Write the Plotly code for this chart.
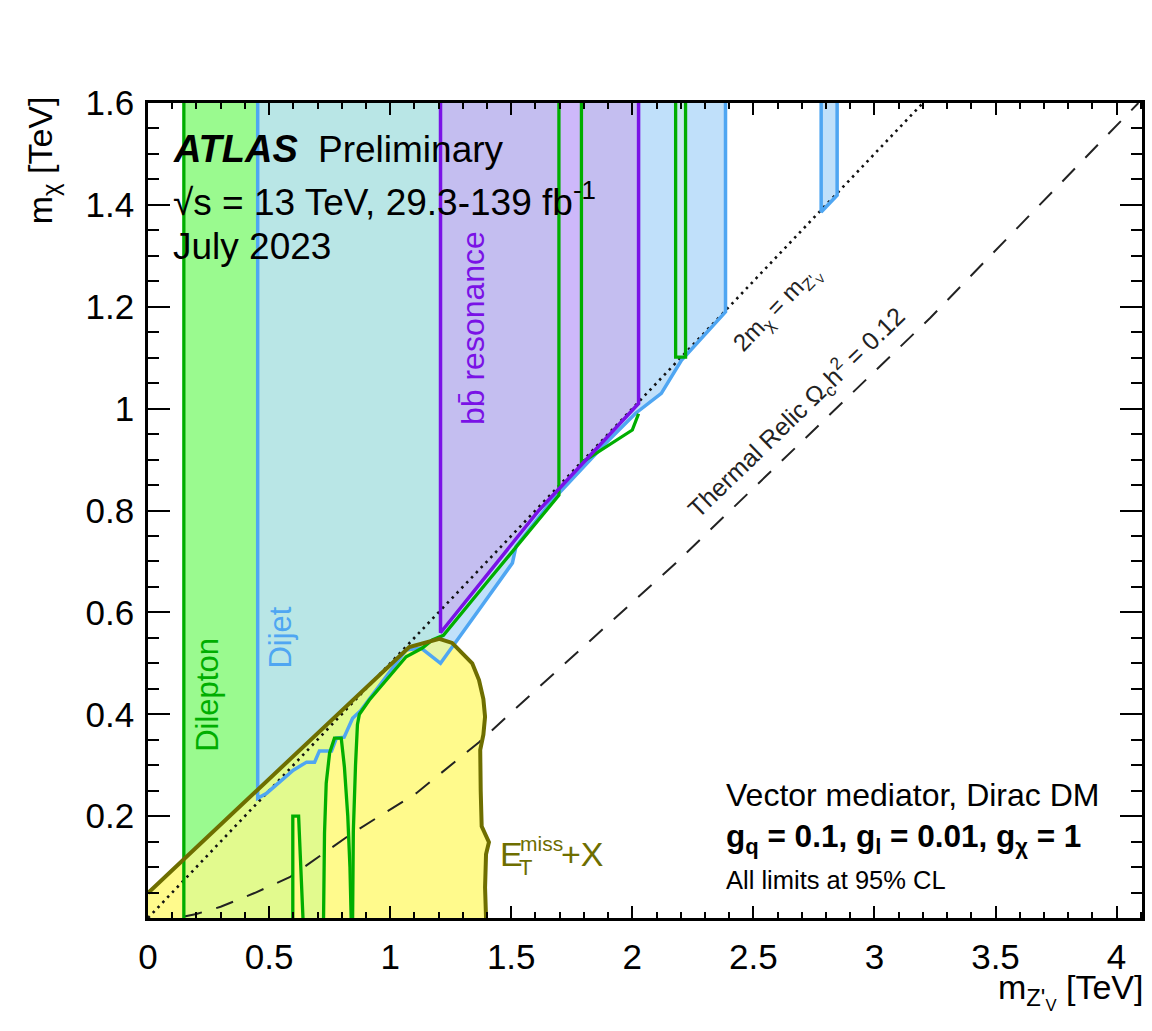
import numpy as np
import plotly.graph_objects as go

# ---------------- data (TeV) ----------------
x_range = [0.0, 4.105]
y_range = [0.0, 1.6]

x_tick_vals = [0, 0.5, 1, 1.5, 2, 2.5, 3, 3.5, 4]
x_tick_text = ["0", "0.5", "1", "1.5", "2", "2.5", "3", "3.5", "4"]
y_tick_vals = [0.2, 0.4, 0.6, 0.8, 1.0, 1.2, 1.4, 1.6]
y_tick_text = ["0.2", "0.4", "0.6", "0.8", "1", "1.2", "1.4", "1.6"]

# 2 m_chi = m_Z' line
diag_x = [0.0, 3.2]
diag_y = [0.0, 1.6]

# thermal relic line
relic_x = [0.15, 0.2, 0.3, 0.44, 0.585, 0.845, 1.108, 1.367, 1.614, 2.18, 3.23, 4.09]
relic_y = [0.003, 0.008, 0.022, 0.049, 0.080, 0.167, 0.245, 0.345, 0.453, 0.697, 1.178, 1.6]

# E_T^miss + X contour
etmiss_x = [0.0, 1.079, 1.203, 1.256, 1.339, 1.367, 1.385, 1.392, 1.385, 1.372, 1.374, 1.378, 1.408, 1.396, 1.392, 1.396]
etmiss_y = [0.049, 0.532, 0.548, 0.540, 0.500, 0.467, 0.430, 0.395, 0.360, 0.330, 0.250, 0.180, 0.149, 0.125, 0.060, 0.0]

# Dijet contours
dijet_x = [0.453, 0.453, 0.49, 0.6, 0.655, 0.688, 0.708, 0.758, 0.778, 0.81, 0.845, 0.88, 1.066, 1.128, 1.208,
           1.27, 1.367, 1.505, 1.52, 1.67, 1.89, 2.014, 2.12, 2.203, 2.385, 2.385]
dijet_y = [1.6, 0.235, 0.245, 0.29, 0.306, 0.306, 0.328, 0.328, 0.353, 0.355, 0.392, 0.408, 0.526, 0.53, 0.50,
           0.54, 0.605, 0.697, 0.73, 0.82, 0.932, 0.991, 1.03, 1.095, 1.19, 1.6]
dijet2_x = [2.78, 2.78, 2.846, 2.846]
dijet2_y = [1.6, 1.386, 1.419, 1.6]

# b-bbar resonance contour
bb_x = [1.208, 1.208, 1.614, 2.0, 2.026, 2.026]
bb_y = [1.6, 0.56, 0.80, 0.997, 1.01, 1.6]

# Dilepton contours
dl1_x = [0.148, 0.148]
dl1_y = [0.0, 1.6]
dl2_x = [0.598, 0.598, 0.622, 0.64]
dl2_y = [0.0, 0.2, 0.2, 0.0]
dl3_x = [0.725, 0.729, 0.736, 0.75, 0.77, 0.798, 0.811, 0.825, 0.834, 0.839]
dl3_y = [0.0, 0.167, 0.265, 0.324, 0.353, 0.353, 0.297, 0.2, 0.1, 0.0]
dl4_x = [0.845, 0.848, 0.857, 0.865, 0.873, 0.914, 1.066, 1.133, 1.174, 1.22, 1.41, 1.53, 1.668, 1.697, 1.697]
dl4_y = [0.0, 0.17, 0.3, 0.38, 0.40, 0.428, 0.513, 0.53, 0.546, 0.555, 0.665, 0.735, 0.815, 0.83, 1.6]
dl5_x = [1.79, 1.79, 1.81, 2.0, 2.026]
dl5_y = [1.6, 0.895, 0.9, 0.958, 0.99]
dl6_x = [2.179, 2.179, 2.22, 2.22]
dl6_y = [1.6, 1.101, 1.101, 1.6]

# ---------------- colours ----------------
C_GREEN = "#00AE00"
C_BLUE = "#4FA6F2"
C_PURPLE = "#7A12E6"
C_OLIVE = "#6E6E00"
F_DILEP = "#9AFA8F"
F_TEAL = "#B9E6E6"
F_PURPLE = "#C4BEF0"
F_PURPLE2 = "#CDB8FA"
F_LBLUE = "#C0E0FA"
F_RECT = "#C6E8EE"
F_YELLOW = "#FFFA8C"
F_GY = "#E2FA8E"
F_V = "#E6F4A6"

FONT = "Liberation Sans, Arial, Helvetica, sans-serif"

# ---------------- derived polygons ----------------
olive_x = etmiss_x[:3]
olive_y = etmiss_y[:3]


def olive(x):
    return float(np.interp(x, olive_x, olive_y))


bb_low_x = bb_x[1:5]
bb_low_y = bb_y[1:5]


def bbedge(x):
    return float(np.interp(x, bb_low_x, bb_low_y))


i_split = dijet_x.index(1.208)
teal_x = dijet_x[:i_split + 1] + [1.208]
teal_y = dijet_y[:i_split + 1] + [1.6]

lb_x = dijet_x[i_split:] + [2.026] + bb_x[4:0:-1]
lb_y = dijet_y[i_split:] + [1.6] + bb_y[4:0:-1]

strip_x = [dl4_x[-1], dl4_x[-1], dl5_x[0], dl5_x[0]]
strip_y = [bbedge(dl4_x[-1]), 1.6, 1.6, bbedge(dl5_x[0])]

band_x = [dl1_x[0], dl1_x[0], dijet_x[0], dijet_x[0]]
band_y = [0.0, 1.6, 1.6, 0.0]

et_fill_x = [0.0] + etmiss_x
et_fill_y = [0.0] + etmiss_y

dl4_low = [(x, y) for x, y in zip(dl4_x, dl4_y) if x <= 1.066]
gy_x = [dl1_x[0], dl1_x[0], etmiss_x[1]] + [p[0] for p in dl4_low[::-1]] + dl3_x[::-1] + dl2_x[::-1]
gy_y = [0.0, olive(dl1_x[0]), etmiss_y[1]] + [p[1] for p in dl4_low[::-1]] + dl3_y[::-1] + dl2_y[::-1]

v_x = [1.128, 1.208, 1.26, 1.256, 1.203, 1.128]
v_y = [0.53, 0.50, 0.535, 0.540, 0.548, olive(1.128)]

fig = go.Figure()


def poly(xs, ys, color):
    fig.add_trace(go.Scatter(x=xs, y=ys, mode="lines", fill="toself", fillcolor=color,
                             line=dict(width=0), hoverinfo="skip", showlegend=False))


def line(xs, ys, color, width, dash=None):
    fig.add_trace(go.Scatter(x=xs, y=ys, mode="lines",
                             line=dict(color=color, width=width, dash=dash),
                             hoverinfo="skip", showlegend=False))


poly(band_x, band_y, F_DILEP)
poly(teal_x, teal_y, F_TEAL)
poly(bb_x, bb_y, F_PURPLE)
poly(strip_x, strip_y, F_PURPLE2)
poly(lb_x, lb_y, F_LBLUE)
poly(dijet2_x, dijet2_y, F_LBLUE)
poly(dl6_x, dl6_y, F_RECT)
poly(et_fill_x, et_fill_y, F_YELLOW)
poly(gy_x, gy_y, F_GY)
poly(v_x, v_y, F_V)

line(diag_x, diag_y, "#111111", 2.6, "2.5px,4.5px")
line(relic_x, relic_y, "#222222", 2.0, "18px,15px")
line(dijet_x, dijet_y, C_BLUE, 3.5)
line(dijet2_x, dijet2_y, C_BLUE, 3.5)
for gx, gyv in [(dl1_x, dl1_y), (dl2_x, dl2_y), (dl3_x, dl3_y), (dl4_x, dl4_y), (dl5_x, dl5_y), (dl6_x, dl6_y)]:
    line(gx, gyv, C_GREEN, 3.3)
line(bb_x, bb_y, C_PURPLE, 3.5)
line(etmiss_x, etmiss_y, C_OLIVE, 4.0)

# ---------------- layout ----------------
L, R, T, B = 148, 1145, 103, 918
W, H = 1152, 1031


def px(xp):
    return (xp - L) / (R - L)


def py(yp):
    return (B - yp) / (B - T)


ann = []


def text(t, xp, yp, size, color="black", xanchor="left", yanchor="middle", angle=0):
    ann.append(dict(text=t, x=px(xp), y=py(yp), xref="paper", yref="paper", showarrow=False,
                    xanchor=xanchor, yanchor=yanchor, textangle=angle,
                    font=dict(family=FONT, size=size, color=color)))


text("<b><i>ATLAS</i></b>", 171, 149, 38)
text("Preliminary", 317, 149, 37)
text("√s = 13 TeV, 29.3-139 fb<sup>-1</sup>", 171, 199, 37)
text("July 2023", 171, 247, 37)

text("Dilepton", 207, 695, 31, C_GREEN, "center", "middle", -90)
text("Dijet", 280, 638, 31, C_BLUE, "center", "middle", -90)
text("bb\u0304 resonance", 474, 328, 32, C_PURPLE, "center", "middle", -90)

text("E", 499, 854, 34, C_OLIVE)
text("miss", 519, 843, 21, C_OLIVE)
text("T", 518, 867, 22, C_OLIVE)
text("+X", 560, 854, 34, C_OLIVE)

text("2m<sub>χ</sub> = m<sub>Z'<sub>V</sub></sub>", 779, 309, 24, "#222222", "center", "middle", -46)
text("Thermal Relic Ω<sub>c</sub>h<sup>2</sup> = 0.12", 798, 413, 25, "#222222", "center", "middle", -44)

text("Vector mediator, Dirac DM", 726, 795, 32)
text("<b>g<sub>q</sub> = 0.1, g<sub>l</sub> = 0.01, g<sub>χ</sub> = 1</b>", 726, 838, 31.5)
text("All limits at 95% CL", 726, 880, 25.5)

text("m<sub>χ</sub> [TeV]", 42, 160, 34, "black", "center", "middle", -90)
text("m<sub>Z'<sub>V</sub></sub> [TeV]", 1148, 992, 34, "black", "right", "middle")

axis_common = dict(showline=True, linecolor="black", linewidth=2.5, mirror="ticks",
                   ticks="inside", tickcolor="black", tickwidth=2, showgrid=False, zeroline=False,
                   tickfont=dict(family=FONT, size=35, color="black"))

fig.update_layout(
    width=W, height=H,
    margin=dict(l=L, r=W - R, t=T, b=H - B),
    paper_bgcolor="white", plot_bgcolor="white",
    showlegend=False,
    annotations=ann,
    xaxis=dict(range=x_range, tickvals=x_tick_vals, ticktext=x_tick_text, ticklen=12,
               minor=dict(ticks="inside", ticklen=6, dtick=0.1, tick0=0, tickcolor="black", tickwidth=2),
               ticklabelstandoff=6, **axis_common),
    yaxis=dict(range=y_range, tickvals=y_tick_vals, ticktext=y_tick_text, ticklen=22,
               minor=dict(ticks="inside", ticklen=11, dtick=0.05, tick0=0, tickcolor="black", tickwidth=2),
               ticklabelstandoff=4, **axis_common),
)

fig.write_html("out.html")
